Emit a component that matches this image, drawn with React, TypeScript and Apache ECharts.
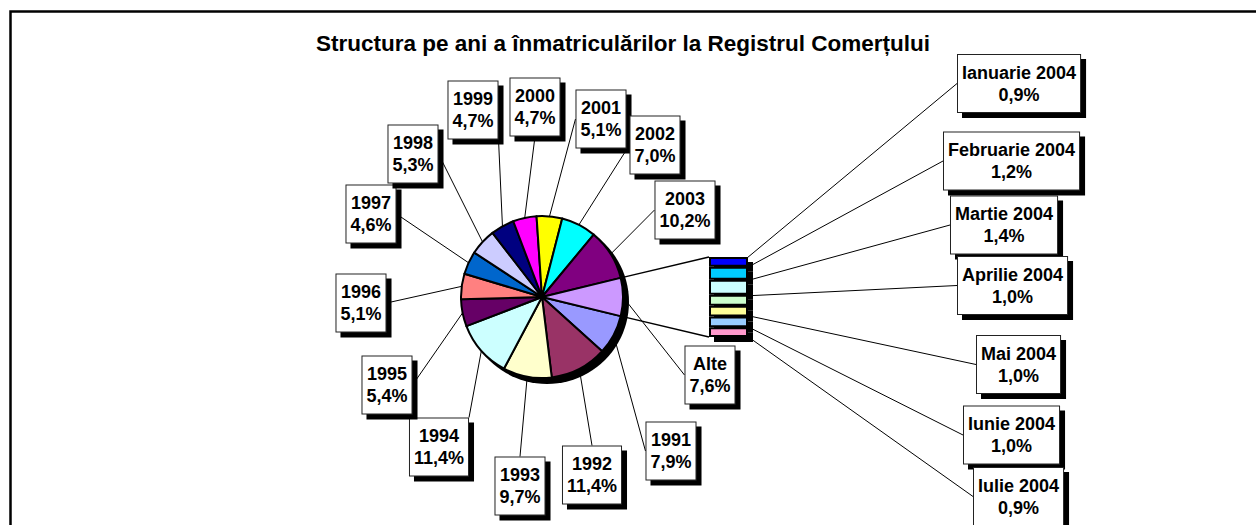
import React, { useEffect, useRef } from 'react';
import * as echarts from 'echarts';

const TITLE = 'Structura pe ani a înmatriculărilor la Registrul Comerțului';

// Pie (years + "Alte" = the 2004 months combined)
const pieNames = ['1991', '1992', '1993', '1994', '1995', '1996', '1997', '1998', '1999', '2000', '2001', '2002', '2003', 'Alte'];
const pieValues = [7.9, 11.4, 9.7, 11.4, 5.4, 5.1, 4.6, 5.3, 4.7, 4.7, 5.1, 7.0, 10.2, 7.6];
const pieColors = ['#9999FF', '#993366', '#FFFFCC', '#CCFFFF', '#660066', '#FF8080', '#0066CC', '#CCCCFF', '#000080', '#FF00FF', '#FFFF00', '#00FFFF', '#800080', '#CC99FF'];

// Bar of pie (2004 months)
const monthNames = ['Ianuarie 2004', 'Februarie 2004', 'Martie 2004', 'Aprilie 2004', 'Mai 2004', 'Iunie 2004', 'Iulie 2004'];
const monthValues = [0.9, 1.2, 1.4, 1.0, 1.0, 1.0, 0.9];
const monthColors = ['#0000FF', '#00CCFF', '#CCFFFF', '#CCFFCC', '#FFFF99', '#99CCFF', '#FF99CC'];

// Layout (pixels)
const PIE_CX = 542;
const PIE_CY = 297;
const PIE_R = 81;
const pieLabelCenters = [
  [671, 451], [592, 475], [520, 486], [439, 447], [387, 385], [361, 303], [371, 214],
  [413, 154], [473, 110], [535, 107], [601, 119], [655, 145], [685, 210], [710, 375],
];
const BAR_LEFT = 709;
const BAR_TOP = 257;
const BAR_W = 39;
const BAR_H = 80;
const monthLabelAnchors = [
  [957, 83.5], [943, 161], [950, 225], [957, 285.5], [976, 364.5], [963, 435], [973, 496.5],
];

const FONT = "'Liberation Sans', Arial, Helvetica, sans-serif";
const pct = (v: number) => v.toFixed(1).replace('.', ',') + '%';

const boxStyle = {
  color: '#000',
  fontFamily: FONT,
  fontWeight: 'bold',
  fontSize: 18,
  lineHeight: 22,
  backgroundColor: '#fff',
  borderColor: '#222',
  borderWidth: 1,
  padding: [6, 4, 7, 4],
  shadowColor: '#000',
  shadowBlur: 0,
  shadowOffsetX: 5,
  shadowOffsetY: 5,
  align: 'center',
};

function anchorFor(p0: number[], cx: number, cy: number, w: number, h: number) {
  const l = cx - w / 2;
  const r = cx + w / 2;
  const t = cy - h / 2;
  const b = cy + h / 2;
  const vy = p0[1] > cy ? b : t;
  if (p0[0] < l) return l - p0[0] < 20 ? [l, vy] : [l, cy];
  if (p0[0] > r) return p0[0] - r < 20 ? [r, vy] : [r, cy];
  return [cx, vy];
}

export default function App() {
  const ref = useRef<HTMLDivElement>(null);
  useEffect(() => {
    if (!ref.current) return;
    const chart = echarts.init(ref.current, null, { renderer: 'svg' });

    const total = pieValues.reduce((a, b) => a + b, 0);
    const alteHalf = (pieValues[pieValues.length - 1] / total) * 180; // degrees
    const monthTotal = monthValues.reduce((a, b) => a + b, 0);
    const hRad = (alteHalf * Math.PI) / 180;
    const upper = [PIE_CX + PIE_R * Math.cos(hRad), PIE_CY - PIE_R * Math.sin(hRad)];
    const lower = [PIE_CX + PIE_R * Math.cos(hRad), PIE_CY + PIE_R * Math.sin(hRad)];

    const option: any = {
      animation: false,
      backgroundColor: '#fff',
      title: {
        text: TITLE,
        left: 623,
        top: 32,
        padding: 0,
        textAlign: 'center',
        textStyle: { fontFamily: FONT, fontWeight: 'bold', fontSize: 22.5, color: '#000' },
      },
      graphic: [
        {
          type: 'rect',
          silent: true,
          z: 0,
          shape: { x: 10.5, y: 11.5, width: 1400, height: 700 },
          style: { fill: 'none', stroke: '#000', lineWidth: 2.5 },
        },
        {
          type: 'circle',
          silent: true,
          z: 0,
          shape: { cx: PIE_CX + 5, cy: PIE_CY + 5, r: PIE_R + 1 },
          style: { fill: '#000' },
        },
        {
          type: 'line',
          silent: true,
          z: 0,
          shape: { x1: upper[0], y1: upper[1], x2: BAR_LEFT, y2: BAR_TOP },
          style: { stroke: '#000', lineWidth: 1.5 },
        },
        {
          type: 'line',
          silent: true,
          z: 0,
          shape: { x1: lower[0], y1: lower[1], x2: BAR_LEFT, y2: BAR_TOP + BAR_H },
          style: { stroke: '#000', lineWidth: 1.5 },
        },
      ],
      grid: { left: BAR_LEFT, top: BAR_TOP, width: BAR_W, height: BAR_H, containLabel: false },
      xAxis: { type: 'category', data: ['2004'], show: false },
      yAxis: { type: 'value', min: 0, max: monthTotal, inverse: true, show: false },
      series: [
        {
          type: 'pie',
          silent: true,
          center: [PIE_CX, PIE_CY],
          radius: PIE_R,
          startAngle: 360 - alteHalf,
          clockwise: true,
          avoidLabelOverlap: false,
          data: pieNames.map((n, i) => ({ name: n, value: pieValues[i], itemStyle: { color: pieColors[i] } })),
          itemStyle: { borderColor: '#000', borderWidth: 2 },
          label: {
            show: true,
            position: 'outside',
            formatter: (p: any) => p.name + '\n' + pct(p.value),
            ...boxStyle,
          },
          labelLine: { show: true, length: 5, length2: 5, smooth: false, lineStyle: { color: '#000', width: 1 } },
          labelLayout: (params: any) => {
            const c = pieLabelCenters[params.dataIndex];
            const w = params.labelRect.width;
            const h = params.labelRect.height;
            let p0 = params.labelLinePoints && params.labelLinePoints[0];
            if (!p0) {
              p0 = [PIE_CX, PIE_CY];
            }
            const a = anchorFor(p0, c[0], c[1], w, h);
            return {
              x: c[0],
              y: c[1],
              align: 'center',
              verticalAlign: 'middle',
              labelLinePoints: [[p0[0], p0[1]], a, a],
            };
          },
        },
        ...monthNames.map((name, i) => ({
          type: 'bar',
          name,
          stack: 'months',
          silent: true,
          barWidth: '100%',
          data: [monthValues[i]],
          itemStyle: {
            color: monthColors[i],
            borderColor: '#000',
            borderWidth: 2,
            shadowColor: '#000',
            shadowBlur: 0,
            shadowOffsetX: 5,
            shadowOffsetY: 5,
          },
          label: {
            show: true,
            position: 'right',
            formatter: (p: any) => p.seriesName + '\n' + pct(p.value),
            ...boxStyle,
          },
          labelLine: { show: true, length2: 0, smooth: false, lineStyle: { color: '#000', width: 1 } },
          labelLayout: (params: any) => ({
            x: monthLabelAnchors[i][0] + params.labelRect.width / 2,
            y: monthLabelAnchors[i][1],
            align: 'center',
            verticalAlign: 'middle',
          }),
        })),
      ],
    };

    chart.setOption(option);
    return () => chart.dispose();
  }, []);

  return (
    <div
      ref={ref}
      style={{ position: 'fixed', left: 0, top: 0, width: 1256, height: 525, background: '#fff' }}
    />
  );
}
